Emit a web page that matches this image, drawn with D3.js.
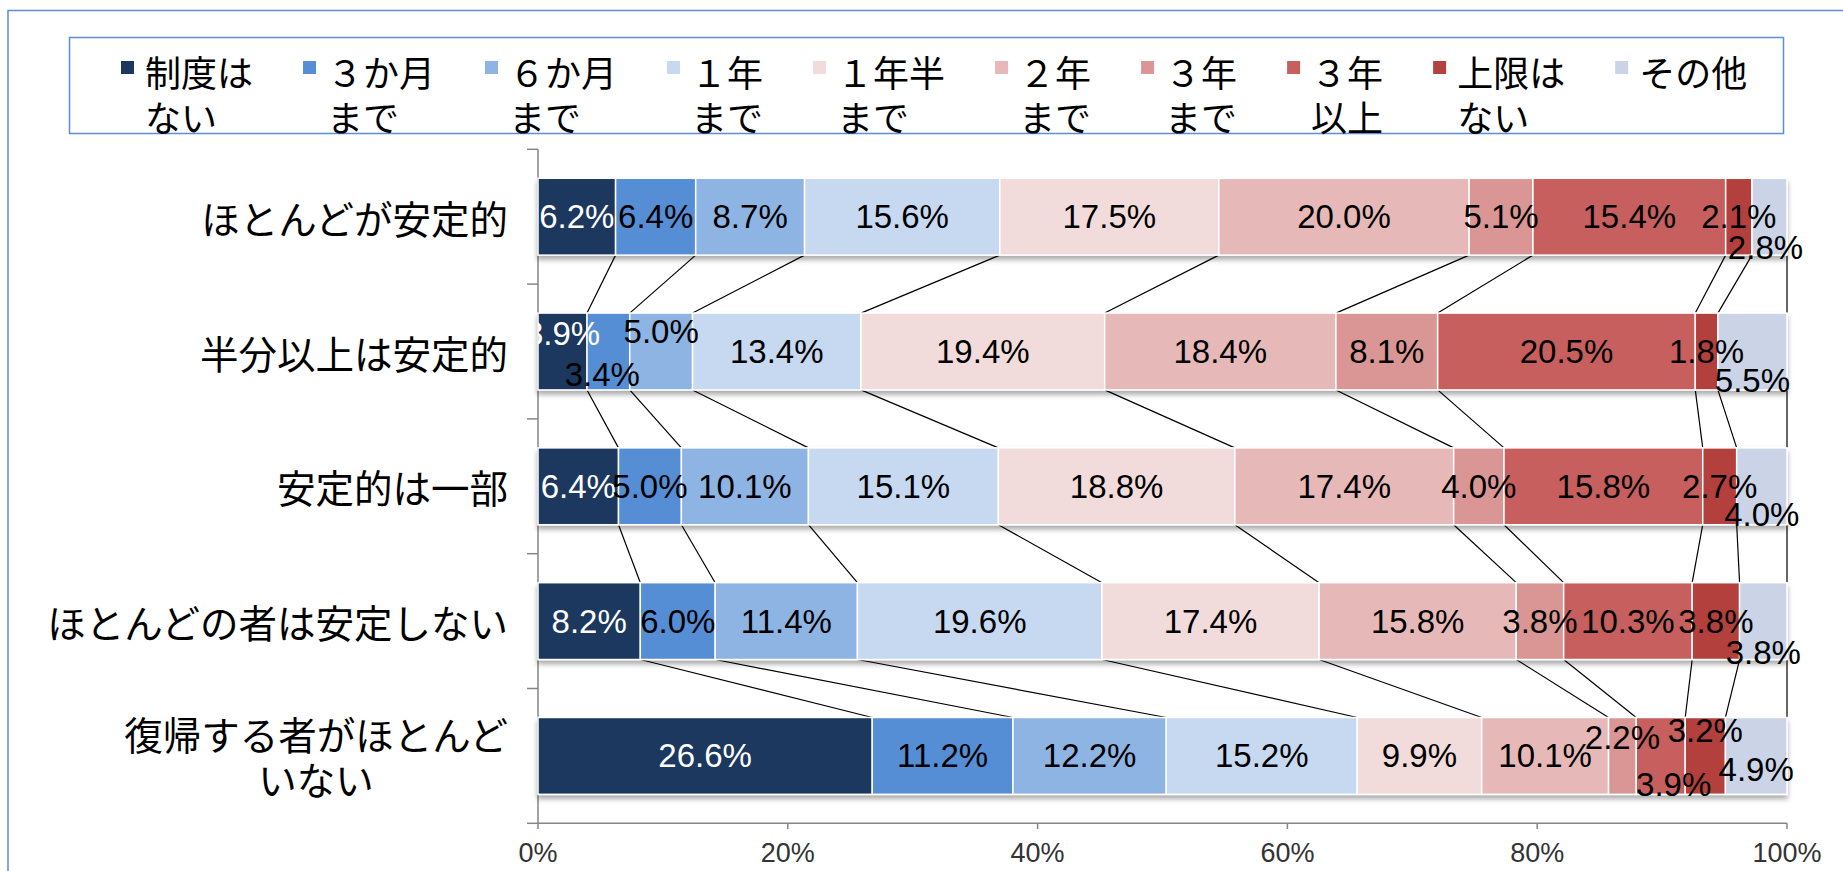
<!DOCTYPE html>
<html><head><meta charset="utf-8">
<script src="https://cdn.jsdelivr.net/npm/d3@7"></script>
<style>html,body{margin:0;padding:0;background:#fff;overflow:hidden}</style>
</head><body><svg id="chart" width="1843" height="871"></svg>
<script>
// ---- data ----
const categories = ["ほとんどが安定的", "半分以上は安定的", "安定的は一部", "ほとんどの者は安定しない", "復帰する者がほとんどいない"];
const categoryLines = [["ほとんどが安定的"], ["半分以上は安定的"], ["安定的は一部"], ["ほとんどの者は安定しない"], ["復帰する者がほとんど", "いない"]];
const seriesNames = ["制度はない", "３か月まで", "６か月まで", "１年まで", "１年半まで", "２年まで", "３年まで", "３年以上", "上限はない", "その他"];
const seriesLegendLines = [["制度は", "ない"], ["３か月", "まで"], ["６か月", "まで"], ["１年", "まで"], ["１年半", "まで"], ["２年", "まで"], ["３年", "まで"], ["３年", "以上"], ["上限は", "ない"], ["その他"]];
const vNone      = [6.2, 3.9, 6.4, 8.2, 26.6];
const v3m        = [6.4, 3.4, 5.0, 6.0, 11.2];
const v6m        = [8.7, 5.0, 10.1, 11.4, 12.2];
const v1y        = [15.6, 13.4, 15.1, 19.6, 15.2];
const v1y6m      = [17.5, 19.4, 18.8, 17.4, 9.9];
const v2y        = [20.0, 18.4, 17.4, 15.8, 10.1];
const v3y        = [5.1, 8.1, 4.0, 3.8, 2.2];
const v3yPlus    = [15.4, 20.5, 15.8, 10.3, 3.9];
const vNoLimit   = [2.1, 1.8, 2.7, 3.8, 3.2];
const vOther     = [2.8, 5.5, 4.0, 3.8, 4.9];
const seriesValues = [vNone, v3m, v6m, v1y, v1y6m, v2y, v3y, v3yPlus, vNoLimit, vOther];
const tickValues = [0, 0.2, 0.4, 0.6, 0.8, 1.0];
const tickLabels = ["0%", "20%", "40%", "60%", "80%", "100%"];

// ---- styles / layout ----
const colors = ["#1b375f", "#558ed5", "#8eb4e3", "#c6d9f1", "#f2dcdb", "#e6b9b8", "#d99694", "#c65f5d", "#b3413e", "#cad4e6"];
const labelColors = ["#ffffff", "#000", "#000", "#000", "#000", "#000", "#000", "#000", "#000", "#000"];
// manual label nudges "row-series": [dx, dy]
const nudges = {"0-9": [-4, 31], "1-0": [0, -18], "1-1": [-6, 23], "1-2": [0, -20], "1-9": [0, 29],
  "2-9": [0, 28], "3-9": [0, 31], "4-6": [0, -18], "4-7": [13, 29], "4-8": [0, -25], "4-9": [0, 14]};

const svg = d3.select("#chart");
const JP = "'Noto Sans CJK JP','Noto Sans',sans-serif";
const NUM = "'Liberation Sans','Arial',sans-serif";

const defs = svg.append("defs");
const f = defs.append("filter").attr("id", "shadow").attr("x", "-5%").attr("y", "-20%").attr("width", "110%").attr("height", "150%");
f.append("feDropShadow").attr("dx", 0).attr("dy", 4).attr("stdDeviation", 2.5).attr("flood-color", "#000").attr("flood-opacity", 0.33);
defs.append("clipPath").attr("id", "plotclip").append("rect").attr("x", 538).attr("y", 0).attr("width", 1400).attr("height", 871);

// outer border
svg.append("rect").attr("x", 8).attr("y", 10.5).attr("width", 1900).attr("height", 900)
  .attr("fill", "none").attr("stroke", "#5b8ed6").attr("stroke-width", 1.5);

// scales
const x = d3.scaleLinear().domain([0, 1]).range([538, 1787]);
const y = d3.scaleBand().domain(categories).range([149.3, 823.3]).paddingInner(0.43).paddingOuter(0.215);
const step = y.step();

// stacked (normalized) data
const rows = categories.map((c, i) => {
  const total = d3.sum(seriesValues, s => s[i]);
  let acc = 0;
  return seriesValues.map((s, j) => {
    const x0 = acc / total; acc += s[i]; const x1 = acc / total;
    return {row: i, cat: c, series: j, value: s[i], x0, x1};
  });
});

// legend
const lg = svg.append("g");
lg.append("rect").attr("x", 69.5).attr("y", 37.5).attr("width", 1714).attr("height", 96)
  .attr("fill", "#fff").attr("stroke", "#5b8ed6").attr("stroke-width", 1.5);
let lx = 121;
seriesNames.forEach((name, j) => {
  const g = lg.append("g");
  g.append("rect").attr("x", lx).attr("y", 61).attr("width", 13).attr("height", 13).attr("fill", colors[j]);
  let maxW = 0;
  seriesLegendLines[j].forEach((ln, k) => {
    const t = g.append("text").attr("x", lx + 24).attr("y", 71 + k * 45).attr("dominant-baseline", "central")
      .attr("font-family", JP).attr("font-size", 36).attr("fill", "#000").text(ln);
    maxW = Math.max(maxW, t.node().getComputedTextLength());
  });
  lx += maxW + 74;
});

// axes
const axisColor = "#868686";
const ax = svg.append("g");
ax.append("line").attr("x1", 538).attr("x2", 538).attr("y1", 149.3).attr("y2", 823.3).attr("stroke", axisColor).attr("stroke-width", 1.5);
for (let k = 0; k <= categories.length; k++) {
  const yy = 149.3 + k * step;
  ax.append("line").attr("x1", 527).attr("x2", 538).attr("y1", yy).attr("y2", yy).attr("stroke", axisColor).attr("stroke-width", 1.5);
}
ax.append("line").attr("x1", 538).attr("x2", x(1)).attr("y1", 823.3).attr("y2", 823.3).attr("stroke", axisColor).attr("stroke-width", 1.5);
tickValues.forEach((t, k) => {
  ax.append("line").attr("x1", x(t)).attr("x2", x(t)).attr("y1", 823.3).attr("y2", 829).attr("stroke", axisColor).attr("stroke-width", 1.5);
  ax.append("text").attr("x", x(t)).attr("y", 853).attr("text-anchor", "middle").attr("dominant-baseline", "central")
    .attr("font-family", NUM).attr("font-size", 27).attr("fill", "#333").text(tickLabels[k]);
});

// category labels
categories.forEach((c, i) => {
  const lines = categoryLines[i];
  const cy = y(c) + y.bandwidth() / 2;
  const g = svg.append("g");
  const ts = lines.map((ln, k) => g.append("text")
    .attr("y", cy + (k - (lines.length - 1) / 2) * 45).attr("dominant-baseline", "central")
    .attr("font-family", JP).attr("font-size", 38.5).attr("fill", "#000").attr("text-anchor", "middle").text(ln));
  const maxW = d3.max(ts, t => t.node().getComputedTextLength());
  ts.forEach(t => t.attr("x", 508 - maxW / 2));
});

// series lines
const sl = svg.append("g");
for (let i = 0; i < rows.length - 1; i++) {
  rows[i].forEach((d, j) => {
    const d2 = rows[i + 1][j];
    sl.append("line").attr("x1", x(d.x1)).attr("y1", y(d.cat) + y.bandwidth())
      .attr("x2", x(d2.x1)).attr("y2", y(d2.cat)).attr("stroke", "#000").attr("stroke-width", 1.2);
  });
}

// bars
const bars = svg.append("g");
rows.forEach(r => {
  const g = bars.append("g").attr("filter", "url(#shadow)");
  g.selectAll("rect").data(r).join("rect")
    .attr("x", d => x(d.x0)).attr("width", d => x(d.x1) - x(d.x0))
    .attr("y", d => y(d.cat)).attr("height", y.bandwidth())
    .attr("fill", d => colors[d.series]).attr("stroke", "#fff").attr("stroke-width", 1.5);
});

// data labels
const lbl = svg.append("g").attr("clip-path", "url(#plotclip)");
rows.forEach(r => {
  r.forEach(d => {
    const n = nudges[d.row + "-" + d.series] || [0, 0];
    lbl.append("text").attr("x", x((d.x0 + d.x1) / 2) + n[0]).attr("y", y(d.cat) + y.bandwidth() / 2 + n[1])
      .attr("text-anchor", "middle").attr("dominant-baseline", "central")
      .attr("font-family", NUM).attr("font-size", 33).attr("fill", labelColors[d.series])
      .text(d.value.toFixed(1) + "%");
  });
});
</script></body></html>
